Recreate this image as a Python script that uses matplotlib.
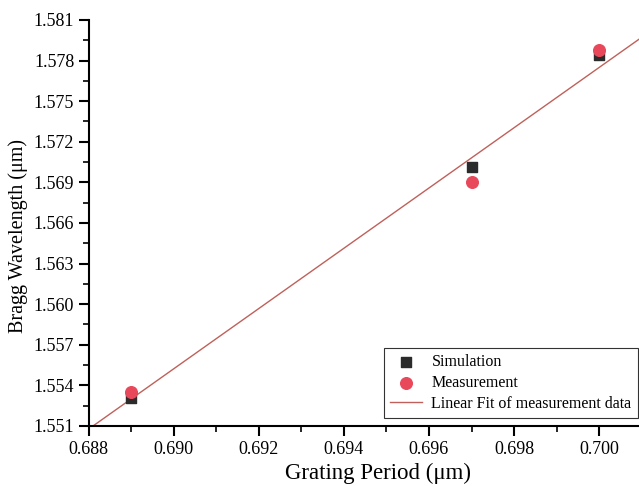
import matplotlib.pyplot as plt
import numpy as np
from matplotlib.ticker import MultipleLocator

plt.rcParams['font.family'] = ['Liberation Serif', 'DejaVu Serif']

period = [0.689, 0.697, 0.700]
simulation = [1.5531, 1.5701, 1.5784]
measurement = [1.5535, 1.5690, 1.5788]

fig = plt.figure(figsize=(6.39, 4.86), dpi=100)
# axes runs a bit past the right edge of the picture, as in the scan
ax = fig.add_axes([0.139, 0.1235, 0.905, 0.8355])

ax.scatter(period, simulation, marker='s', s=55, color='#2b2b2b', label='Simulation', zorder=3)
ax.scatter(period, measurement, marker='o', s=70, color='#e8485a', label='Measurement', zorder=4)

k, b = np.polyfit(period, measurement, 1)
xf = np.array([0.688, 0.7016])
ax.plot(xf, k * xf + b, color='#c0605a', lw=1, label='Linear Fit of measurement data', zorder=2)

ax.set_xlim(0.688, 0.7016)
ax.set_ylim(1.551, 1.581)
ax.xaxis.set_major_locator(MultipleLocator(0.002))
ax.xaxis.set_minor_locator(MultipleLocator(0.001))
ax.yaxis.set_major_locator(MultipleLocator(0.003))
ax.yaxis.set_minor_locator(MultipleLocator(0.0015))
ax.xaxis.set_major_formatter(plt.FormatStrFormatter('%.3f'))
ax.yaxis.set_major_formatter(plt.FormatStrFormatter('%.3f'))

for s in ['top', 'right']:
    ax.spines[s].set_visible(False)
for s in ['left', 'bottom']:
    ax.spines[s].set_linewidth(1.5)
ax.tick_params(which='major', direction='out', length=7, width=1.5, labelsize=13)
ax.tick_params(which='minor', direction='out', length=4, width=1.2)

ax.set_xlabel('Grating Period (μm)', fontsize=16.5, labelpad=4)
ax.set_ylabel('Bragg Wavelength (μm)', fontsize=14.5, labelpad=4)
ax.yaxis.label.set_y(0.468)

leg = ax.legend(loc='lower right', bbox_to_anchor=(638 / 639, 68 / 486),
                bbox_transform=fig.transFigure, fontsize=11.5, frameon=True,
                fancybox=False, edgecolor='black', borderaxespad=0,
                handletextpad=0.6, labelspacing=0.3, borderpad=0.4)
leg.get_frame().set_linewidth(0.8)

fig.savefig('out.png', dpi=100)
